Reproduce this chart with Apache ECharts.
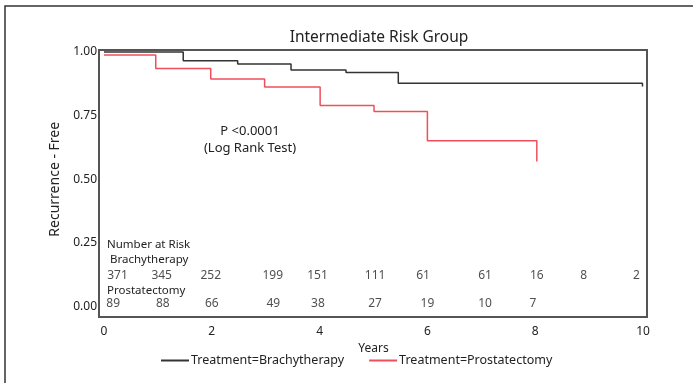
<!DOCTYPE html>
<html>
<head>
<meta charset="utf-8">
<script src="https://cdn.jsdelivr.net/npm/echarts@6/dist/echarts.min.js"></script>
<style>
html,body{margin:0;padding:0;background:#fff;}
#chart{width:693px;height:383px;}
</style>
</head>
<body>
<div id="chart"></div>
<script>
// ---- data ----
const brachyTimes = [0, 1.47, 2.48, 3.47, 4.49, 5.46, 9.99];
const brachySurv  = [1.0, 0.966, 0.953, 0.929, 0.919, 0.877, 0.864];
const prostTimes  = [0, 0.96, 1.98, 2.98, 4.01, 5.01, 6.0, 8.03];
const prostSurv   = [0.988, 0.935, 0.894, 0.862, 0.79, 0.766, 0.651, 0.57];

const brachyRiskYears = [0.25, 1.07, 1.98, 3.13, 3.96, 5.03, 5.92, 7.07, 8.03, 8.9, 9.88];
const brachyRisk      = [371, 345, 252, 199, 151, 111, 61, 61, 16, 8, 2];
const prostRiskYears  = [0.17, 1.09, 2.0, 3.14, 3.97, 5.03, 6.0, 7.07, 7.96];
const prostRisk       = [89, 88, 66, 49, 38, 27, 19, 10, 7];

const yTicks = [0, 0.25, 0.5, 0.75, 1.0];
const xTicks = [0, 2, 4, 6, 8, 10];

const FONT = '"Noto Sans", "DejaVu Sans", sans-serif';
const TXT = '#222';

const zip = (a, b) => a.map((v, i) => [v, b[i]]);

const chart = echarts.init(document.getElementById('chart'));
const riskLabel = { show: true, position: 'inside', fontFamily: FONT, fontSize: 12, color: TXT,
  textBorderWidth: 0, formatter: p => String(p.data.n) };
const option = {
  backgroundColor: '#fff',
  animation: false,
  textStyle: { fontFamily: FONT, color: TXT },
  title: {
    text: 'Intermediate Risk Group',
    left: 374, top: 25, textAlign: 'center',
    textStyle: { fontFamily: FONT, fontSize: 15.5, fontWeight: 'normal', color: TXT }
  },
  grid: { left: 104, top: 52, width: 539, height: 254.5 },
  xAxis: {
    type: 'value', min: 0, max: 10, interval: 2,
    name: 'Years', nameLocation: 'middle', nameGap: 30,
    nameTextStyle: { fontFamily: FONT, fontSize: 12, color: TXT },
    axisLine: { show: false }, axisTick: { show: false }, splitLine: { show: false },
    axisLabel: { margin: 19, fontFamily: FONT, fontSize: 12, color: TXT,
      formatter: v => xTicks.includes(v) ? String(v) : '' }
  },
  yAxis: {
    type: 'value', min: 0, max: 1, interval: 0.25,
    name: 'Recurrence - Free', nameLocation: 'middle', nameGap: 28,
    nameTextStyle: { fontFamily: FONT, fontSize: 14, color: TXT },
    axisLine: { show: false }, axisTick: { show: false }, splitLine: { show: false },
    axisLabel: { margin: 7, fontFamily: FONT, fontSize: 12, color: TXT,
      formatter: v => yTicks.includes(v) ? v.toFixed(2) : '' }
  },
  legend: {
    left: 156, top: 349, itemWidth: 28, itemHeight: 2, itemGap: 25,
    icon: 'rect',
    textStyle: { fontFamily: FONT, fontSize: 12.5, color: TXT, padding: [0, 0, 0, -3] },
    data: ['Treatment=Brachytherapy', 'Treatment=Prostatectomy']
  },
  series: [
    {
      name: 'Treatment=Brachytherapy', type: 'line', step: 'end',
      data: zip(brachyTimes, brachySurv), showSymbol: false, symbol: 'none',
      lineStyle: { color: '#333', width: 1.5 }, itemStyle: { color: '#333' }, clip: false
    },
    {
      name: 'Treatment=Prostatectomy', type: 'line', step: 'end',
      data: zip(prostTimes, prostSurv), showSymbol: false, symbol: 'none',
      lineStyle: { color: '#ef4f5a', width: 1.5 }, itemStyle: { color: '#ef4f5a' }, clip: false
    },
    {
      type: 'scatter', symbolSize: 0, silent: true, itemStyle: { color: TXT },
      data: brachyRisk.map((v, i) => ({ value: [brachyRiskYears[i], 0.122], n: v })),
      label: riskLabel
    },
    {
      type: 'scatter', symbolSize: 0, silent: true, itemStyle: { color: TXT },
      data: prostRisk.map((v, i) => ({ value: [prostRiskYears[i], 0.013], n: v })),
      label: riskLabel
    }
  ],
  graphic: [
    { type: 'rect', shape: { x: 5, y: 6, width: 720, height: 420 }, silent: true,
      style: { fill: 'none', stroke: '#333', lineWidth: 1.5 } },
    { type: 'rect', shape: { x: 99, y: 50, width: 548, height: 267 }, silent: true, z: 10,
      style: { fill: 'none', stroke: '#555', lineWidth: 2 } },
    { type: 'text', x: 250, y: 131, silent: true,
      style: { text: 'P <0.0001', font: '13px ' + FONT, fill: TXT, textAlign: 'center', textVerticalAlign: 'middle' } },
    { type: 'text', x: 250, y: 148, silent: true,
      style: { text: '(Log Rank Test)', font: '13px ' + FONT, fill: TXT, textAlign: 'center', textVerticalAlign: 'middle' } },
    { type: 'text', x: 107, y: 245, silent: true,
      style: { text: 'Number at Risk', font: '11.5px ' + FONT, fill: TXT, textVerticalAlign: 'middle' } },
    { type: 'text', x: 110, y: 260, silent: true,
      style: { text: 'Brachytherapy', font: '11.5px ' + FONT, fill: TXT, textVerticalAlign: 'middle' } },
    { type: 'text', x: 107, y: 290.5, silent: true,
      style: { text: 'Prostatectomy', font: '11.5px ' + FONT, fill: TXT, textVerticalAlign: 'middle' } }
  ]
};
chart.setOption(option);
</script>
</body>
</html>
